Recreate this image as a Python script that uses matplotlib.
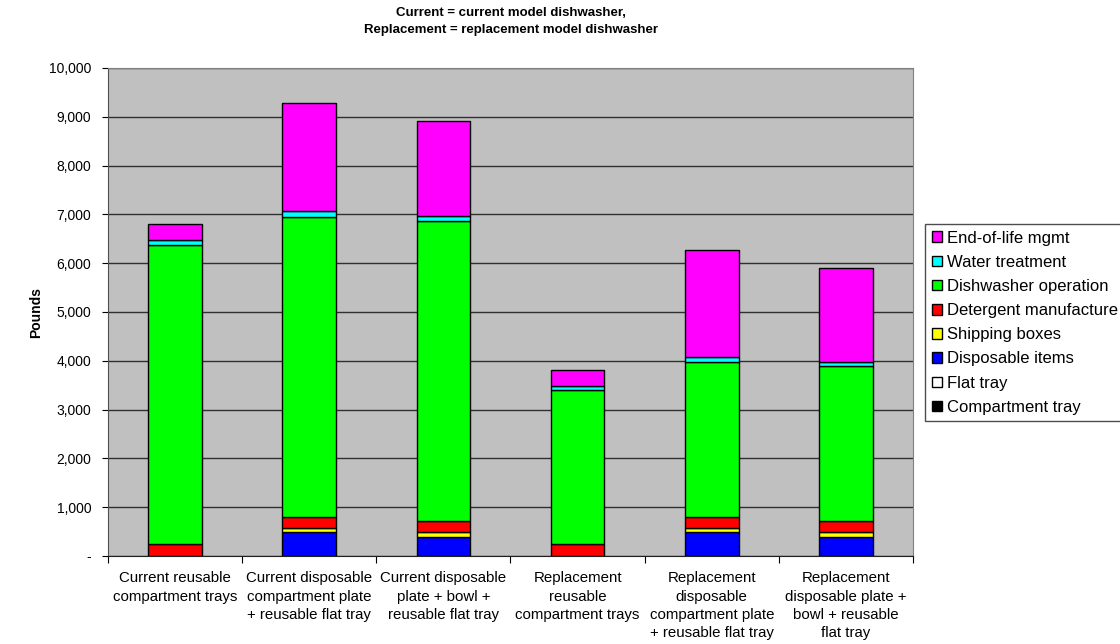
import numpy as np
import matplotlib
matplotlib.use('Agg')
import matplotlib.pyplot as plt
from matplotlib.ticker import FuncFormatter

plt.rcParams['font.family'] = ['Liberation Sans', 'DejaVu Sans']

categories = ['Current reusable\ncompartment trays',
              'Current disposable\ncompartment plate\n+ reusable flat tray',
              'Current disposable\nplate + bowl +\nreusable flat tray',
              'Replacement\nreusable\ncompartment trays',
              'Replacement\ndisposable\ncompartment plate\n+ reusable flat tray',
              'Replacement\ndisposable plate +\nbowl + reusable\nflat tray']

# stacking order bottom -> top
compartment_tray = [10, 0, 0, 10, 0, 0]
flat_tray = [0, 5, 5, 0, 5, 5]
disposable_items = [0, 490, 385, 0, 490, 385]
shipping_boxes = [0, 89, 96, 0, 89, 96]
detergent = [226, 219, 240, 226, 219, 240]
dishwasher_op = [6139, 6152, 6134, 3164, 3177, 3165]
water_treatment = [109, 113, 109, 82, 88, 82]
end_of_life = [314, 2212, 1936, 320, 2211, 1925]

series = [('Compartment tray', compartment_tray, '#000000'),
          ('Flat tray', flat_tray, '#FFFFFF'),
          ('Disposable items', disposable_items, '#0000FF'),
          ('Shipping boxes', shipping_boxes, '#FFFF00'),
          ('Detergent manufacture', detergent, '#FF0000'),
          ('Dishwasher operation', dishwasher_op, '#00FF00'),
          ('Water treatment', water_treatment, '#00FFFF'),
          ('End-of-life mgmt', end_of_life, '#FF00FF')]

fig = plt.figure(figsize=(11.2, 6.44), dpi=100)
ax = fig.add_axes([108/1120, 1 - 556/644, (913 - 108)/1120, (556 - 68)/644])
ax.set_facecolor('#C0C0C0')

x = np.arange(len(categories))
bottom = np.zeros(len(categories))
handles = []
for name, vals, col in series:
    vals = np.array(vals, dtype=float)
    b = ax.bar(x, vals, width=0.4, bottom=bottom, color=col,
               edgecolor='black', linewidth=1.0, label=name, zorder=3)
    handles.append(b)
    bottom += vals

ax.set_xlim(-0.5, len(categories) - 0.5)
ax.set_ylim(0, 10000)
ax.set_yticks(np.arange(0, 10001, 1000))
ax.yaxis.set_major_formatter(FuncFormatter(lambda v, p: '-' if v == 0 else f'{v:,.0f}'))
ax.yaxis.grid(True, color='#303030', linewidth=1.0, zorder=1)
ax.tick_params(axis='y', labelsize=10, length=4, direction='out', pad=8)

ax.set_xticks(np.arange(-0.5, len(categories)), labels=[''] * (len(categories) + 1))
ax.set_xticks(x, labels=categories, minor=True)
ax.tick_params(axis='x', which='major', length=5, direction='out')
ax.tick_params(axis='x', which='minor', length=0, labelsize=10.8, pad=11)
for t in ax.get_xticklabels(minor=True):
    t.set_linespacing(1.4)

for s in ['top', 'right']:
    ax.spines[s].set_color('#808080')
ax.spines['left'].set_color('#505050')
ax.spines['bottom'].set_color('#202020')

fig.text(36/1120, 1 - 312/644, 'Pounds', rotation=90, ha='center', va='center',
         fontsize=10, fontweight='bold')

fig.text((108 + 913)/2/1120, 1 - 13/644, 'Current = current model dishwasher,',
         ha='center', va='center', fontsize=9.5, fontweight='bold')
fig.text((108 + 913)/2/1120, 1 - 30/644, 'Replacement = replacement model dishwasher',
         ha='center', va='center', fontsize=9.5, fontweight='bold')

leg = fig.legend(handles[::-1], [s[0] for s in series][::-1],
                 loc='upper left', bbox_to_anchor=(925/1120, 1 - 224/644),
                 fontsize=12, frameon=True, fancybox=False, edgecolor='#202020',
                 handlelength=0.6, handleheight=0.6, handletextpad=0.3,
                 labelspacing=0.55, borderpad=0.4, borderaxespad=0)
leg.get_frame().set_linewidth(1.0)

fig.savefig('out.png', dpi=100)
